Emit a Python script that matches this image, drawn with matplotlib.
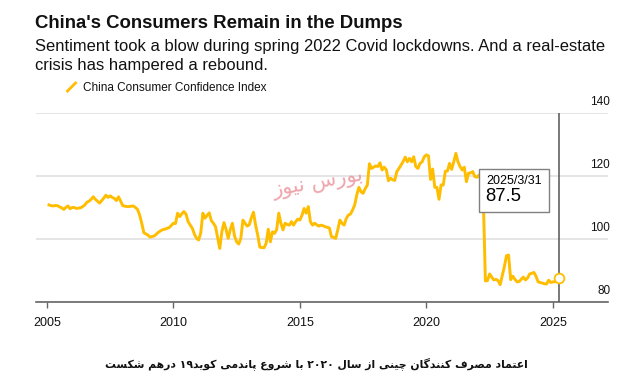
import re
import numpy as np
import matplotlib
matplotlib.use('Agg')
import matplotlib.pyplot as plt
import matplotlib.transforms as mtransforms
from matplotlib.lines import Line2D
from matplotlib.patches import Rectangle

# China Consumer Confidence Index, monthly (month-end)
START_YEAR = 2005
cci_2005_2009 = [
    110.8, 110.6, 110.5, 110.6, 110.6, 110.2, 109.9, 109.4, 110.0, 110.5, 109.6, 110.0,
    110.0, 109.7, 109.8, 109.9, 110.3, 110.8, 111.7, 112.0, 112.6, 113.4, 112.6, 112.0,
    111.4, 112.2, 113.0, 113.9, 113.2, 113.7, 113.2, 112.9, 112.2, 113.4, 112.0, 110.6,
    110.4, 110.3, 110.3, 110.4, 110.5, 110.0, 109.4, 107.6, 105.0, 102.0, 101.6, 101.2,
    100.6, 100.8, 101.0, 101.6, 102.2, 102.6, 103.0, 103.1, 103.4, 103.6, 104.3, 105.0,
]
cci_2010_2014 = [
    104.9, 108.2, 107.1, 108.0, 108.7, 107.9, 105.5, 104.4, 103.4, 101.5, 100.2, 99.7,
    102.0, 108.2, 106.6, 107.5, 108.3, 105.8, 105.0, 103.9, 100.5, 97.0, 102.3, 105.2,
    103.0, 100.2, 103.0, 105.0, 101.0, 99.1, 98.4, 100.2, 106.0, 105.0, 104.1, 104.5,
    106.8, 108.5, 104.4, 101.3, 97.4, 97.3, 97.2, 98.6, 103.1, 99.1, 102.3, 101.8,
    103.0, 108.2, 105.0, 102.9, 105.0, 104.6, 104.4, 105.5, 104.4, 105.5, 106.3, 106.0,
]
cci_2015_2019 = [
    107.5, 109.7, 108.2, 110.3, 105.5, 104.4, 105.0, 104.5, 104.1, 104.4, 104.2, 103.9,
    103.7, 103.5, 100.7, 100.5, 100.2, 103.0, 106.0, 105.0, 104.4, 106.5, 107.6, 107.9,
    109.2, 110.8, 114.0, 116.4, 115.0, 114.5, 116.0, 117.1, 123.9, 122.4, 122.8, 123.2,
    123.0, 124.2, 121.9, 122.8, 122.0, 118.5, 119.3, 118.8, 118.6, 121.4, 122.4, 123.5,
    124.6, 126.0, 124.5, 125.6, 124.5, 126.1, 123.0, 122.4, 124.0, 124.5, 126.1, 126.7,
]
cci_2020_2025 = [
    126.4, 118.9, 122.2, 116.4, 116.4, 112.6, 117.2, 117.1, 121.5, 121.6, 124.0, 122.1,
    124.5, 127.2, 124.5, 123.0, 121.9, 122.8, 118.2, 120.9, 121.0, 121.4, 119.8, 119.6,
    120.3, 120.5, 113.2, 86.7, 86.8, 88.9, 87.9, 87.0, 87.2, 86.8, 85.5, 88.3,
    91.2, 94.7, 94.9, 87.1, 88.2, 87.2, 86.4, 86.5, 87.2, 87.9, 87.0, 87.6,
    88.9, 89.1, 89.4, 88.2, 86.4, 86.2, 86.0, 85.8, 85.7, 86.9, 86.2, 86.4,
    86.4, 87.1, 87.5,
]
last_date = '2025/3/31'

year_ticks = [2005, 2010, 2015, 2020, 2025]
value_ticks = [80, 100, 120, 140]

title = "China's Consumers Remain in the Dumps"
subtitle_1 = 'Sentiment took a blow during spring 2022 Covid lockdowns. And a real-estate'
subtitle_2 = 'crisis has hampered a rebound.'
legend_label = 'China Consumer Confidence Index'
caption = 'اعتماد مصرف کنندگان چینی از سال ۲۰۲۰ با شروع پاندمی کوید۱۹ درهم شکست'
watermark = 'بورس نیوز'

YELLOW = '#ffbd00'

# Arabic/Persian presentation forms: isolated, final, initial, medial
FORMS = {
    'ا': ('\uFE8D', '\uFE8E', None, None),
    'ب': ('\uFE8F', '\uFE90', '\uFE91', '\uFE92'),
    'پ': ('\uFB56', '\uFB57', '\uFB58', '\uFB59'),
    'ت': ('\uFE95', '\uFE96', '\uFE97', '\uFE98'),
    'چ': ('\uFB7A', '\uFB7B', '\uFB7C', '\uFB7D'),
    'د': ('\uFEA9', '\uFEAA', None, None),
    'ر': ('\uFEAD', '\uFEAE', None, None),
    'ز': ('\uFEAF', '\uFEB0', None, None),
    'س': ('\uFEB1', '\uFEB2', '\uFEB3', '\uFEB4'),
    'ش': ('\uFEB5', '\uFEB6', '\uFEB7', '\uFEB8'),
    'ص': ('\uFEB9', '\uFEBA', '\uFEBB', '\uFEBC'),
    'ع': ('\uFEC9', '\uFECA', '\uFECB', '\uFECC'),
    'ف': ('\uFED1', '\uFED2', '\uFED3', '\uFED4'),
    'ک': ('\uFB8E', '\uFB8F', '\uFB90', '\uFB91'),
    'گ': ('\uFB92', '\uFB93', '\uFB94', '\uFB95'),
    'ل': ('\uFEDD', '\uFEDE', '\uFEDF', '\uFEE0'),
    'م': ('\uFEE1', '\uFEE2', '\uFEE3', '\uFEE4'),
    'ن': ('\uFEE5', '\uFEE6', '\uFEE7', '\uFEE8'),
    'ه': ('\uFEE9', '\uFEEA', '\uFEEB', '\uFEEC'),
    'و': ('\uFEED', '\uFEEE', None, None),
    'ی': ('\uFBFC', '\uFBFD', '\uFBFE', '\uFBFF'),
}


def shape_rtl(text):
    # matplotlib has no text shaping, so pick joined forms and reverse by hand
    out = []
    for i, ch in enumerate(text):
        if ch not in FORMS:
            out.append(ch)
            continue
        prev = text[i - 1] if i > 0 else ''
        nxt = text[i + 1] if i + 1 < len(text) else ''
        iso, fin, ini, med = FORMS[ch]
        link_prev = prev in FORMS and FORMS[prev][2] is not None
        link_next = ini is not None and nxt in FORMS
        if link_prev and link_next:
            out.append(med)
        elif link_prev:
            out.append(fin)
        elif link_next:
            out.append(ini)
        else:
            out.append(iso)
    visual = ''.join(out)[::-1]
    # digit runs stay left to right
    return re.sub('[\u06F0-\u06F9]+', lambda m: m.group(0)[::-1], visual)


values = np.array(cci_2005_2009 + cci_2010_2014 + cci_2015_2019 + cci_2020_2025)
dates = START_YEAR + (np.arange(len(values)) + 1) / 12.0

W, H = 638, 388
def fx(px):
    return px / W
def fy(py):
    return 1 - py / H

plt.rcParams['font.family'] = ['Liberation Sans', 'DejaVu Sans']

fig = plt.figure(figsize=(W / 100, H / 100), dpi=100)
ax = fig.add_axes([fx(36), fy(302), (608 - 36) / W, (302 - 113) / H])

ax.plot(dates, values, color=YELLOW, lw=2.1, solid_joinstyle='round', zorder=3)
ax.axvline(dates[-1], color='#555555', lw=1.1, zorder=4)
ax.plot(dates[-1], values[-1], 'o', ms=7, mfc='white', mec=YELLOW, mew=1.3, zorder=7)

ax.set_xlim(2004.57, 2027.18)
ax.set_ylim(80, 140)
ax.set_yticks(value_ticks)
ax.yaxis.grid(True, color='#e3e3e3', lw=1.3)
ax.set_axisbelow(True)
ax.tick_params(axis='y', left=False, labelleft=False)
ax.set_xticks(year_ticks)
ax.set_xticklabels([str(y) for y in year_ticks])
ax.tick_params(axis='x', direction='out', length=4, width=1, color='#666666',
               labelsize=9, pad=7, labelcolor='#111111')
for s in ['top', 'left', 'right']:
    ax.spines[s].set_visible(False)
ax.spines['bottom'].set_color('#666666')
ax.spines['bottom'].set_linewidth(1.2)

# value labels sit above their gridlines at the right end
trans = mtransforms.blended_transform_factory(ax.transAxes, ax.transData)
for v in value_ticks:
    ax.annotate(str(v), xy=(1.004, v), xycoords=trans, xytext=(0, 8),
                textcoords='offset points', ha='right', va='center',
                fontsize=8.5, color='#111111', annotation_clip=False)

# tooltip box for the latest reading
box = Rectangle((2022.08, 108.5), 2.77, 13.6, facecolor='white',
                edgecolor='#808080', lw=1, zorder=5)
ax.add_patch(box)
ax.text(2022.36, 118.4, last_date, fontsize=9, va='center', ha='left', zorder=6)
ax.text(2022.33, 113.4, f'{values[-1]:.1f}', fontsize=13.3, va='center', ha='left', zorder=6)

# header
fig.text(fx(35), fy(27.7), title, fontsize=13.4, weight='bold', va='baseline', color='#111111')
fig.text(fx(35), fy(50.7), subtitle_1, fontsize=11.9, va='baseline', color='#111111')
fig.text(fx(35), fy(70), subtitle_2, fontsize=11.9, va='baseline', color='#111111')
fig.add_artist(Line2D([fx(67.5), fx(75.5)], [fy(91), fy(83)], color=YELLOW, lw=2))
fig.text(fx(82.7), fy(91), legend_label, fontsize=8.5, va='baseline', color='#111111')

# watermark and Persian caption
fig.text(fx(318), fy(183), shape_rtl(watermark), fontsize=15, color='#e9868f', alpha=0.75,
         family='DejaVu Sans', ha='center', va='center', rotation=10)
fig.text(fx(316), fy(364), shape_rtl(caption), fontsize=7.8, weight='bold',
         family='DejaVu Sans', ha='center', va='center', color='#111111')

fig.savefig('out.png', dpi=100)
